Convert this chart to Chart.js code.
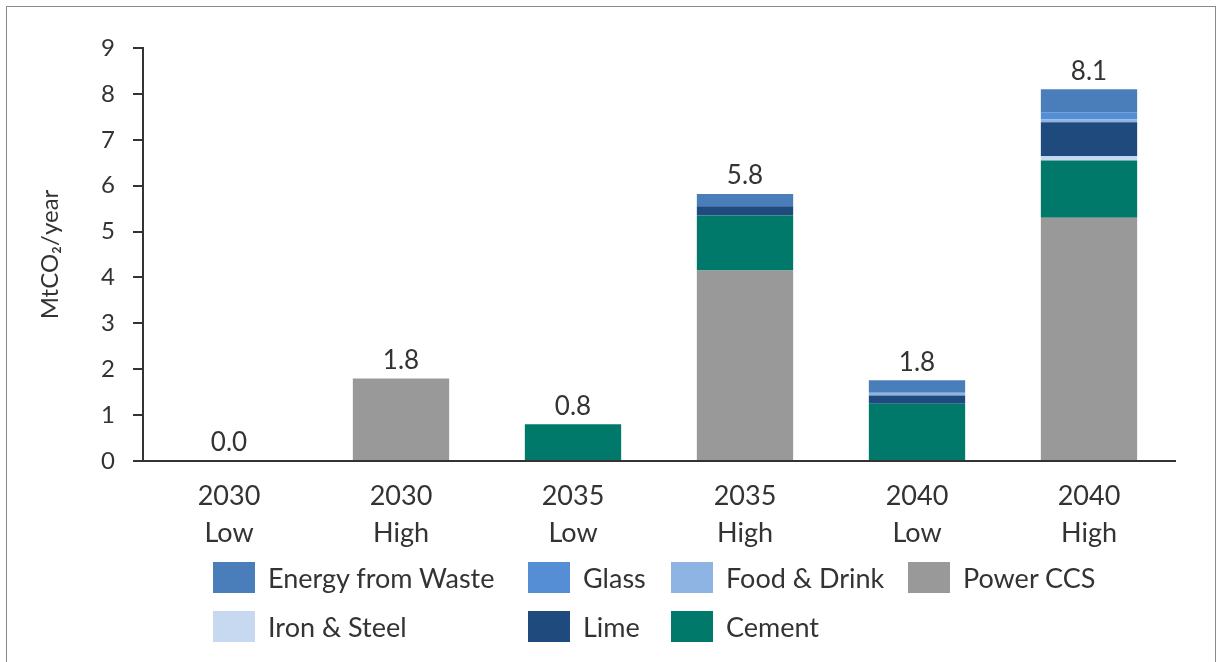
<!DOCTYPE html>
<html lang="en">
<head>
<meta charset="UTF-8">
<title>CO2 captured by scenario</title>
<script src="https://cdn.jsdelivr.net/npm/chart.js"></script>
<style>
    html, body { margin: 0; padding: 0; background: #fff; }
    body { width: 1223px; height: 662px; position: relative; overflow: hidden; font-family: Lato, "Open Sans", sans-serif; }
    .frame { position: absolute; left: 6px; top: 6px; width: 1208px; height: 700px; border: 1px solid #8a8a8a; }
    #wrap { position: absolute; left: 0; top: 0; width: 1223px; height: 662px; }
    #legend { position: absolute; left: 213px; top: 562px; display: grid;
              grid-template-columns: 315px 143px 237px auto; row-gap: 18px; }
    .item { display: flex; align-items: center; height: 31px; font-size: 27px; color: #333; white-space: nowrap; }
    .box { width: 42px; height: 31px; margin-right: 13px; flex: none; }
</style>
</head>
<body>
<div class="frame"></div>
<div id="wrap"><canvas id="chart" width="1223" height="662"></canvas></div>
<div id="legend"></div>

<script>
    const scenarios = [['2030', 'Low'], ['2030', 'High'], ['2035', 'Low'], ['2035', 'High'], ['2040', 'Low'], ['2040', 'High']];
    const yTicks = [0, 1, 2, 3, 4, 5, 6, 7, 8, 9];

    // MtCO2/year per sector, stacked from the bottom up
    const powerCCS     = [0, 1.8, 0,   4.15, 0,    5.30];
    const cement       = [0, 0,   0.8, 1.20, 1.25, 1.25];
    const ironSteel    = [0, 0,   0,   0,    0,    0.09];
    const lime         = [0, 0,   0,   0.20, 0.18, 0.74];
    const foodDrink    = [0, 0,   0,   0,    0.06, 0.07];
    const glass        = [0, 0,   0,   0,    0,    0.15];
    const energyWaste  = [0, 0,   0,   0.27, 0.27, 0.50];

    const series = [
        { label: 'Power CCS', data: powerCCS, color: '#999999' },
        { label: 'Cement', data: cement, color: '#00796b' },
        { label: 'Iron & Steel', data: ironSteel, color: '#c6d9f1' },
        { label: 'Lime', data: lime, color: '#1f4a7e' },
        { label: 'Food & Drink', data: foodDrink, color: '#8db4e2' },
        { label: 'Glass', data: glass, color: '#558ed5' },
        { label: 'Energy from Waste', data: energyWaste, color: '#4a7ebb' }
    ];
    const legendOrder = ['Energy from Waste', 'Glass', 'Food & Drink', 'Power CCS', 'Iron & Steel', 'Lime', 'Cement'];

    const totals = scenarios.map((s, i) => series.reduce((sum, d) => sum + d.data[i], 0));
    const fontFamily = 'Lato, "Open Sans", sans-serif';

    // totals written above each stack
    const totalLabels = {
        id: 'totalLabels',
        afterDatasetsDraw(chart) {
            const ctx = chart.ctx;
            const x = chart.scales.x, y = chart.scales.y;
            ctx.save();
            ctx.font = '26px ' + fontFamily;
            ctx.fillStyle = '#333';
            ctx.textAlign = 'center';
            ctx.textBaseline = 'bottom';
            totals.forEach((t, i) => {
                ctx.fillText(t.toFixed(1), x.getPixelForValue(i), y.getPixelForValue(t) - 5);
            });
            ctx.restore();
        }
    };

    const chart = new Chart(document.getElementById('chart'), {
        type: 'bar',
        data: {
            labels: scenarios,
            datasets: series.map(s => ({
                label: s.label,
                data: s.data,
                backgroundColor: s.color,
                borderWidth: 0,
                barPercentage: 0.56,
                categoryPercentage: 1
            }))
        },
        options: {
            responsive: false,
            animation: false,
            layout: { padding: { left: 32, top: 48, right: 48, bottom: 0 } },
            plugins: { legend: { display: false }, tooltip: { enabled: false } },
            scales: {
                x: {
                    stacked: true,
                    grid: { display: false, drawTicks: false },
                    border: { color: '#333', width: 2 },
                    ticks: { color: '#333', padding: 16, font: { size: 27, family: fontFamily, lineHeight: 1.4 } },
                    afterFit(scale) { scale.height = 201; }
                },
                y: {
                    stacked: true,
                    min: 0,
                    max: 9,
                    afterBuildTicks(scale) { scale.ticks = yTicks.map(v => ({ value: v })); },
                    grid: { drawOnChartArea: false, drawTicks: true, tickLength: 10, color: '#333', lineWidth: 2 },
                    border: { color: '#333', width: 2 },
                    ticks: { color: '#333', padding: 18, font: { size: 24, family: fontFamily } },
                    title: { display: true, text: 'MtCO₂/year', color: '#333', padding: 4, font: { size: 24, family: fontFamily } },
                    afterFit(scale) { scale.width = 111; }
                }
            }
        },
        plugins: [totalLabels]
    });

    // legend grid built from the chart's datasets
    const legend = document.getElementById('legend');
    legendOrder.forEach(name => {
        const ds = chart.data.datasets.find(d => d.label === name);
        const item = document.createElement('div');
        item.className = 'item';
        const box = document.createElement('span');
        box.className = 'box';
        box.style.background = ds.backgroundColor;
        item.appendChild(box);
        item.appendChild(document.createTextNode(ds.label));
        legend.appendChild(item);
    });
</script>
</body>
</html>
